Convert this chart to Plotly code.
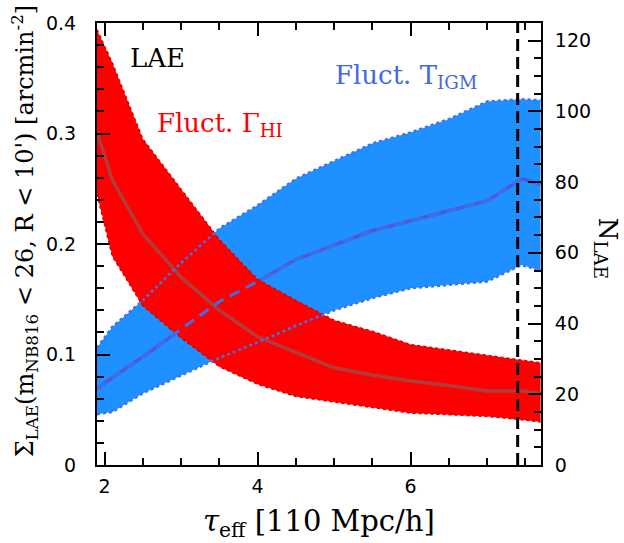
import plotly.graph_objects as go

# tau_eff sample points
tau = [1.9, 2.1, 2.5, 3.0, 3.5, 4.0, 4.5, 5.0, 5.5, 6.0, 6.5, 7.0, 7.45, 7.7]

# Fluct. Gamma_HI (red) : Sigma_LAE [arcmin^-2]
gam_upper = [0.394, 0.364, 0.295, 0.249, 0.204, 0.168, 0.149, 0.131, 0.121, 0.109, 0.104, 0.099, 0.095, 0.0925]
gam_median = [0.301, 0.258, 0.209, 0.170, 0.140, 0.116, 0.102, 0.088, 0.0815, 0.076, 0.072, 0.067, 0.067, 0.065]
gam_lower = [0.245, 0.189, 0.144, 0.115, 0.089, 0.073, 0.062, 0.057, 0.052, 0.047, 0.0455, 0.044, 0.041, 0.039]

# Fluct. T_IGM (blue)
tigm_upper = [0.106, 0.125, 0.149, 0.183, 0.214, 0.235, 0.259, 0.275, 0.291, 0.301, 0.313, 0.329, 0.331, 0.330]
tigm_median = [0.069, 0.079, 0.098, 0.123, 0.148, 0.166, 0.186, 0.199, 0.212, 0.221, 0.230, 0.239, 0.259, 0.254]
tigm_lower = [0.046, 0.048, 0.065, 0.081, 0.097, 0.111, 0.126, 0.140, 0.151, 0.160, 0.163, 0.166, 0.181, 0.176]

tau_obs = 7.4
x_ticks = [2, 4, 6]
y_ticks = [0, 0.1, 0.2, 0.3, 0.4]
n_ticks = [0, 20, 40, 60, 80, 100, 120]

BLUE = "#1e90ff"
RED = "#ff0000"

fig = go.Figure()

# blue band
fig.add_trace(go.Scatter(x=tau, y=tigm_lower, mode="lines", line=dict(width=0), showlegend=False, hoverinfo="skip"))
fig.add_trace(go.Scatter(x=tau, y=tigm_upper, mode="lines", line=dict(width=0), fill="tonexty",
                         fillcolor=BLUE, showlegend=False, hoverinfo="skip"))
fig.add_trace(go.Scatter(x=tau, y=tigm_median, mode="lines", line=dict(color="#4f58d6", width=3.5), showlegend=False))

# red band
fig.add_trace(go.Scatter(x=tau, y=gam_lower, mode="lines", line=dict(width=0), showlegend=False, hoverinfo="skip"))
fig.add_trace(go.Scatter(x=tau, y=gam_upper, mode="lines", line=dict(width=0), fill="tonexty",
                         fillcolor=RED, showlegend=False, hoverinfo="skip"))
fig.add_trace(go.Scatter(x=tau, y=gam_median, mode="lines", line=dict(color="#b03c3c", width=3.5), showlegend=False))

# band edges (dotted)
for arr in (gam_upper, gam_lower):
    fig.add_trace(go.Scatter(x=tau, y=arr, mode="lines", line=dict(color="#d80000", width=1.5, dash="dot"),
                             showlegend=False))
for arr in (tigm_upper, tigm_lower):
    fig.add_trace(go.Scatter(x=tau, y=arr, mode="lines", line=dict(color="#3d72f0", width=2.5, dash="dot"),
                             showlegend=False))
fig.add_trace(go.Scatter(x=tau, y=tigm_median, mode="lines",
                         line=dict(color="#3f6fe8", width=3, dash="11px,7px"), showlegend=False))

# observed tau line on the N_LAE axis
fig.add_trace(go.Scatter(x=[tau_obs, tau_obs], y=[0, 125], yaxis="y2", mode="lines",
                         line=dict(color="black", width=3, dash="12px,6px"), showlegend=False))

tickfont = dict(family="DejaVu Sans", size=19, color="black")
fig.update_layout(
    width=624, height=543,
    margin=dict(l=97, r=83, t=18, b=78),
    plot_bgcolor="white", paper_bgcolor="white",
    xaxis=dict(range=[1.9, 7.705], tickvals=x_ticks, ticks="inside", ticklen=13, tickwidth=1.5,
               tickcolor="black", showline=True, linewidth=2, linecolor="black", mirror="ticks",
               showgrid=False, zeroline=False, tickfont=tickfont, ticklabelstandoff=3,
               minor=dict(dtick=0.5, tick0=2, ticks="inside", ticklen=7, tickwidth=1.5, tickcolor="black",
                          showgrid=False)),
    yaxis=dict(range=[0, 0.4], tickvals=y_ticks, ticktext=["0", "0.1", "0.2", "0.3", "0.4"],
               ticks="inside", ticklen=13, tickwidth=1.5,
               tickcolor="black", showline=True, linewidth=2, linecolor="black", mirror=False,
               showgrid=False, zeroline=False, tickfont=tickfont, ticklabelstandoff=15,
               minor=dict(dtick=0.02, tick0=0, ticks="inside", ticklen=7, tickwidth=1.5, tickcolor="black",
                          showgrid=False)),
    yaxis2=dict(range=[0, 125], overlaying="y", side="right", tickvals=n_ticks, ticks="inside", ticklen=13,
                tickwidth=1.5, tickcolor="black", showline=True, linewidth=2, linecolor="black",
                showgrid=False, zeroline=False, tickfont=tickfont, ticklabelstandoff=8,
                minor=dict(dtick=5, tick0=0, ticks="inside", ticklen=7, tickwidth=1.5, tickcolor="black",
                           showgrid=False)),
    showlegend=False,
)

serif = "DejaVu Serif"
anns = [
    dict(text="LAE", x=2.3, y=0.368, font=dict(family=serif, size=26, color="black")),
    dict(text="Fluct. Γ<sub>HI</sub>", x=2.66, y=0.308, font=dict(family=serif, size=26, color="#ff0000")),
    dict(text="Fluct. T<sub>IGM</sub>", x=4.98, y=0.352, font=dict(family=serif, size=26, color="#4169e1")),
]
for a in anns:
    fig.add_annotation(xref="x", yref="y", showarrow=False, xanchor="left", yanchor="middle", **a)

fig.add_annotation(xref="paper", yref="paper", x=-0.163, y=0.53, xanchor="center", yanchor="middle",
                   textangle=-90, showarrow=False,
                   text="Σ<sub>LAE</sub>(m<sub>NB816</sub> &lt; 26, R &lt; 10') [arcmin<sup>-2</sup>]",
                   font=dict(family=serif, size=24, color="black"))
fig.add_annotation(xref="paper", yref="paper", x=0.5, y=-0.132, xanchor="center", yanchor="middle",
                   showarrow=False, text="<i>τ</i><sub>eff</sub> [110 Mpc/h]",
                   font=dict(family=serif, size=29, color="black"))
fig.add_annotation(xref="paper", yref="paper", x=1.148, y=0.49, xanchor="center", yanchor="middle",
                   textangle=90, showarrow=False,
                   text="N<sub>LAE</sub>", font=dict(family=serif, size=26, color="black"))

fig.write_html("out.html", config={"displayModeBar": False},
               post_script="document.body.style.margin='0';document.body.style.overflow='hidden';")
